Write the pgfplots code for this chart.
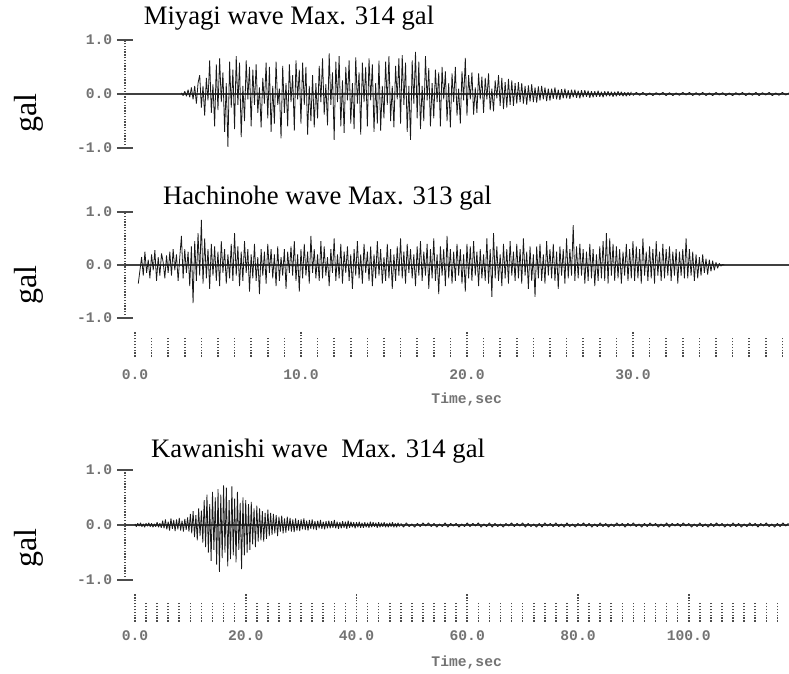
\documentclass[border=0pt]{standalone}
\usepackage{pgfplots}
\pgfplotsset{compat=1.18}
\usepackage{fontspec}
\setmainfont{Liberation Serif}
\newfontfamily\monofont{Liberation Mono}

\pgfplotsset{
  wavepanel/.style={
    scale only axis, width=498pt,
    ymin=-1, ymax=1,
    axis x line=none, axis y line=left,
    y axis line style={-, black!70, densely dotted, line width=1.1pt},
    ytick={-1,0,1}, yticklabels={-1.0,0.0,1.0},
    tick align=center, major tick length=12pt,
    ytick style={black!70, line width=1.1pt, solid},
    yticklabel style={font=\monofont\bfseries\fontsize{11}{12}\selectfont, text=black!55},
    /pgf/number format/assume math mode=true,
  },
  tickrow/.style={
    scale only axis, width=498pt, height=10pt,
    ymin=0, ymax=1, hide y axis,
    axis x line*=bottom, x axis line style={draw=none},
    tick align=inside,
    xtick style={black!70, line width=1.2pt, densely dotted},
    xticklabel style={font=\monofont\bfseries\fontsize{11}{12}\selectfont, text=black!55},
    /pgf/number format/assume math mode=true,
  },
  trace/.style={black!90, line width=0.6pt, no markers, line join=bevel},
  zeroline/.style={black!75, line width=1pt, no markers},
}

\begin{document}
\begin{tikzpicture}
\path[use as bounding box] (0,0) rectangle (591.75pt,505.5pt);

% ---------------- Miyagi ----------------
\begin{axis}[wavepanel, height=81pt, xmin=-0.6, xmax=39.4,
  at={(93.75pt,394.5pt)}, anchor=south west]
\addplot[zeroline] coordinates {(-0.6,0) (39.4,0)};
\addplot[trace] table[row sep=\\, y index=0, x expr=\coordindex*0.1+2.8] {a\\
0.02\\ -0.03\\ 0.05\\ -0.04\\ 0.08\\ -0.06\\ 0.12\\ -0.1\\ 0.15\\ -0.18\\ 0.2\\
0.35\\ -0.25\\ 0.15\\ -0.4\\ 0.3\\ -0.12\\ 0.62\\ -0.35\\ 0.18\\ -0.6\\ 0.55\\
-0.3\\ 0.66\\ -0.15\\ 0.4\\ -0.7\\ 0.2\\ -0.98\\ 0.6\\ -0.25\\ 0.45\\
-0.65\\ 0.7\\ -0.2\\ 0.58\\ -0.8\\ 0.15\\ -0.5\\ 0.62\\ -0.1\\ 0.5\\
-0.6\\ 0.45\\ -0.2\\ 0.55\\ -0.35\\ 0.12\\ -0.62\\ 0.3\\ -0.18\\ 0.58\\
-0.45\\ 0.5\\ -0.7\\ 0.15\\ -0.55\\ 0.6\\ -0.2\\ 0.1\\ -0.82\\ 0.52\\
-0.35\\ 0.2\\ -0.6\\ 0.55\\ -0.15\\ 0.35\\ -0.68\\ 0.62\\ -0.1\\ 0.45\\
-0.55\\ 0.58\\ -0.2\\ 0.5\\ -0.75\\ 0.15\\ -0.5\\ 0.35\\ -0.62\\ 0.2\\
-0.45\\ 0.52\\ -0.15\\ 0.66\\ -0.38\\ 0.18\\ -0.58\\ 0.75\\ -0.2\\ 0.4\\
-0.85\\ 0.6\\ -0.15\\ 0.7\\ -0.6\\ 0.25\\ -0.72\\ 0.5\\ -0.12\\ 0.62\\
-0.55\\ 0.2\\ -0.65\\ 0.68\\ -0.18\\ 0.4\\ -0.75\\ 0.58\\ -0.15\\ 0.5\\
-0.6\\ 0.66\\ -0.12\\ 0.55\\ -0.7\\ 0.2\\ -0.55\\ 0.62\\ -0.68\\ 0.15\\
-0.45\\ 0.6\\ -0.2\\ 0.7\\ -0.5\\ 0.15\\ -0.62\\ 0.52\\ -0.1\\ 0.66\\
-0.55\\ 0.72\\ -0.2\\ 0.58\\ -0.7\\ 0.15\\ -0.85\\ 0.62\\ -0.18\\ 0.78\\
-0.45\\ 0.6\\ -0.65\\ 0.15\\ -0.5\\ 0.7\\ -0.12\\ 0.48\\ -0.6\\ 0.2\\
-0.45\\ 0.45\\ -0.15\\ 0.4\\ -0.6\\ 0.5\\ -0.1\\ 0.42\\ -0.5\\ 0.2\\
-0.62\\ 0.38\\ -0.15\\ 0.5\\ -0.4\\ 0.1\\ -0.55\\ 0.42\\ -0.12\\ 0.67\\
-0.4\\ 0.35\\ -0.1\\ 0.4\\ -0.38\\ 0.12\\ -0.35\\ 0.38\\ -0.1\\ 0.32\\
-0.35\\ 0.3\\ -0.1\\ 0.38\\ -0.3\\ 0.1\\ -0.32\\ 0.25\\ -0.08\\ 0.35\\
-0.22\\ 0.3\\ -0.28\\ 0.22\\ -0.25\\ 0.28\\ -0.2\\ 0.25\\ -0.22\\ 0.2\\
-0.18\\ 0.22\\ -0.15\\ 0.2\\ -0.18\\ 0.15\\ -0.2\\ 0.16\\ -0.14\\ 0.18\\
-0.15\\ 0.12\\ -0.16\\ 0.14\\ -0.12\\ 0.15\\ -0.1\\ 0.12\\ -0.13\\ 0.1\\
-0.12\\ 0.1\\ -0.09\\ 0.12\\ -0.1\\ 0.08\\ -0.11\\ 0.09\\ -0.08\\ 0.1\\
-0.08\\ 0.07\\ -0.09\\ 0.08\\ -0.06\\ 0.08\\ -0.07\\ 0.06\\ -0.08\\ 0.07\\
-0.06\\ 0.07\\ -0.05\\ 0.06\\ -0.07\\ 0.05\\ -0.06\\ 0.05\\ -0.05\\ 0.06\\
-0.05\\ 0.04\\ -0.06\\ 0.05\\ -0.04\\ 0.05\\ -0.04\\ 0.04\\ -0.05\\ 0.04\\
-0.04\\ 0.05\\ -0.03\\ 0.04\\ -0.04\\ 0.03\\ -0.04\\ 0.03\\ -0.03\\ 0.04\\
};
\addplot[trace] table[row sep=\\, y index=0, x expr=\coordindex*0.2+30] {a\\
-0.03\\ 0.03\\ -0.025\\ 0.03\\ -0.03\\ 0.02\\ -0.03\\ 0.025\\ -0.02\\ 0.03\\
-0.03\\ 0.025\\ -0.03\\ 0.02\\ -0.025\\ 0.03\\ -0.02\\ 0.03\\ -0.03\\ 0.025\\
-0.025\\ 0.03\\ -0.03\\ 0.02\\ -0.03\\ 0.03\\ -0.02\\ 0.025\\ -0.03\\ 0.02\\
-0.03\\ 0.025\\ -0.02\\ 0.03\\ -0.03\\ 0.02\\ -0.025\\ 0.03\\ -0.03\\ 0.025\\
-0.02\\ 0.03\\ -0.03\\ 0.02\\ -0.025\\ 0.03\\ -0.02\\ 0.02\\
};
\end{axis}

% ---------------- Hachinohe ----------------
\begin{axis}[wavepanel, height=79.5pt, xmin=-0.6, xmax=39.4,
  at={(93.75pt,267pt)}, anchor=south west]
\addplot[zeroline] coordinates {(-0.6,0) (39.4,0)};
\addplot[trace] table[row sep=\\, y index=0, x expr=\coordindex*0.1+0.2] {a\\
-0.35\\ -0.1\\ 0.15\\ -0.2\\ 0.25\\ -0.15\\ 0.1\\ -0.25\\ 0.2\\ -0.1\\
0.28\\ -0.3\\ 0.15\\ -0.2\\ 0.22\\ 0.05\\ -0.25\\ 0.18\\ -0.15\\ 0.25\\
-0.2\\ 0.3\\ -0.1\\ 0.2\\ -0.3\\ 0.15\\ 0.55\\ -0.25\\ 0.3\\ -0.15\\
0.25\\ -0.4\\ 0.35\\ -0.72\\ 0.45\\ -0.3\\ 0.6\\ -0.2\\ 0.85\\ -0.35\\
0.5\\ -0.25\\ 0.3\\ -0.45\\ 0.4\\ -0.2\\ 0.35\\ -0.3\\ 0.25\\ -0.4\\
0.45\\ -0.15\\ 0.3\\ -0.35\\ 0.2\\ -0.25\\ 0.4\\ -0.3\\ 0.6\\ -0.2\\
0.35\\ -0.4\\ 0.25\\ -0.3\\ 0.45\\ -0.15\\ 0.3\\ -0.5\\ 0.2\\ -0.25\\
0.4\\ -0.3\\ 0.15\\ -0.55\\ 0.3\\ -0.2\\ 0.25\\ -0.35\\ 0.4\\ -0.15\\
0.3\\ -0.25\\ 0.2\\ -0.4\\ 0.35\\ -0.3\\ 0.15\\ -0.2\\ 0.3\\ -0.45\\
0.25\\ -0.15\\ 0.35\\ -0.2\\ 0.45\\ -0.3\\ 0.2\\ -0.5\\ 0.3\\ -0.25\\
0.4\\ -0.2\\ 0.25\\ -0.35\\ 0.55\\ -0.15\\ 0.3\\ -0.25\\ 0.2\\ -0.3\\
0.45\\ -0.25\\ 0.35\\ -0.2\\ 0.15\\ -0.4\\ 0.3\\ -0.15\\ 0.5\\ -0.3\\
0.2\\ -0.25\\ 0.4\\ -0.35\\ 0.25\\ -0.15\\ 0.35\\ -0.3\\ 0.2\\ -0.45\\
0.3\\ -0.2\\ 0.45\\ -0.25\\ 0.2\\ -0.35\\ 0.4\\ -0.15\\ 0.25\\ -0.3\\
0.35\\ -0.4\\ 0.2\\ -0.25\\ 0.45\\ -0.2\\ 0.3\\ -0.35\\ 0.15\\ -0.3\\
0.4\\ -0.25\\ 0.3\\ -0.45\\ 0.2\\ -0.3\\ 0.35\\ -0.2\\ 0.5\\ -0.25\\
0.25\\ -0.35\\ 0.4\\ -0.15\\ 0.3\\ -0.25\\ 0.2\\ -0.4\\ 0.35\\ -0.2\\
0.45\\ -0.3\\ 0.25\\ -0.2\\ 0.4\\ -0.45\\ 0.3\\ -0.25\\ 0.5\\ -0.3\\
0.2\\ -0.55\\ 0.35\\ -0.2\\ 0.3\\ -0.4\\ 0.55\\ -0.25\\ 0.3\\ -0.35\\
0.25\\ -0.3\\ 0.4\\ -0.2\\ 0.3\\ -0.35\\ 0.2\\ -0.5\\ 0.4\\ -0.25\\
0.35\\ -0.3\\ 0.45\\ -0.2\\ 0.25\\ -0.4\\ 0.3\\ -0.25\\ 0.2\\ -0.3\\
0.5\\ -0.35\\ 0.3\\ -0.6\\ 0.6\\ -0.25\\ 0.35\\ -0.3\\ 0.2\\ -0.4\\
0.4\\ -0.25\\ 0.3\\ -0.35\\ 0.45\\ -0.2\\ 0.25\\ -0.3\\ 0.4\\ -0.25\\
0.3\\ -0.35\\ 0.5\\ -0.2\\ 0.25\\ -0.45\\ 0.35\\ -0.3\\ 0.2\\ -0.6\\
0.35\\ -0.25\\ 0.4\\ -0.3\\ 0.2\\ -0.35\\ 0.45\\ -0.2\\ 0.3\\ -0.25\\
0.4\\ -0.3\\ 0.25\\ -0.45\\ 0.35\\ -0.2\\ 0.3\\ -0.35\\ 0.5\\ -0.25\\
0.3\\ -0.2\\ 0.75\\ -0.3\\ 0.35\\ -0.25\\ 0.4\\ -0.2\\ 0.3\\ -0.35\\
0.25\\ -0.3\\ 0.4\\ -0.25\\ 0.3\\ -0.4\\ 0.2\\ -0.3\\ 0.35\\ -0.25\\
0.45\\ -0.3\\ 0.6\\ -0.35\\ 0.5\\ -0.2\\ 0.4\\ -0.3\\ 0.35\\ -0.25\\
0.3\\ -0.35\\ 0.25\\ -0.2\\ 0.4\\ -0.3\\ 0.3\\ -0.25\\ 0.45\\ -0.3\\
0.35\\ -0.25\\ 0.3\\ -0.35\\ 0.5\\ -0.2\\ 0.25\\ -0.3\\ 0.35\\ -0.25\\
0.3\\ -0.35\\ 0.45\\ -0.2\\ 0.25\\ -0.3\\ 0.4\\ -0.25\\ 0.3\\ -0.2\\
0.35\\ -0.3\\ 0.25\\ -0.2\\ 0.3\\ -0.35\\ 0.25\\ -0.2\\ 0.3\\ -0.25\\
0.5\\ -0.25\\ 0.3\\ -0.2\\ 0.25\\ -0.3\\ 0.2\\ -0.25\\ 0.15\\ -0.2\\
0.2\\ -0.15\\ 0.12\\ -0.18\\ 0.1\\ -0.12\\ 0.08\\ -0.1\\ 0.05\\ -0.06\\
0.03\\ -0.02\\ 0.01\\ 0\\
};
\end{axis}
\begin{axis}[tickrow, xmin=-0.6, xmax=39.4,
  at={(93.75pt,237.75pt)}, anchor=south west,
  xtick={0,10,20,30}, xticklabels={0.0,10.0,20.0,30.0},
  minor xtick={1,2,...,39},
  major tick length=18.75pt, minor tick length=14.25pt,
  xticklabel style={yshift=-6pt}]
\end{axis}

% ---------------- Kawanishi ----------------
\begin{axis}[wavepanel, height=82.5pt, xmin=-1.8, xmax=118.1,
  at={(93.75pt,70.5pt)}, anchor=south west]
\addplot[zeroline] coordinates {(-1.8,0) (118.1,0)};
\addplot[trace] table[row sep=\\, y index=0, x expr=\coordindex*0.25] {a\\
0.02\\ -0.03\\ 0.03\\ -0.02\\ 0.04\\ -0.03\\ 0.02\\ -0.04\\ 0.03\\ -0.02\\
0.04\\ -0.03\\ 0.03\\ -0.04\\ 0.02\\ -0.03\\ 0.05\\ -0.04\\ 0.03\\ -0.05\\
0.08\\ -0.06\\ 0.1\\ -0.08\\ 0.06\\ -0.1\\ 0.12\\ -0.07\\ 0.09\\ -0.11\\
0.1\\ -0.08\\ 0.13\\ -0.1\\ 0.08\\ -0.12\\ 0.11\\ -0.09\\ 0.14\\ -0.12\\
0.2\\ -0.15\\ 0.25\\ -0.22\\ 0.18\\ -0.28\\ 0.3\\ -0.2\\ 0.26\\ -0.32\\
0.45\\ -0.4\\ 0.55\\ -0.5\\ 0.38\\ -0.65\\ 0.6\\ -0.45\\ 0.5\\ -0.72\\
0.65\\ -0.85\\ 0.55\\ -0.6\\ 0.72\\ -0.5\\ 0.68\\ -0.75\\ 0.45\\ -0.62\\
0.7\\ -0.55\\ 0.48\\ -0.68\\ 0.6\\ -0.45\\ 0.4\\ -0.8\\ 0.5\\ -0.55\\
0.45\\ -0.5\\ 0.38\\ -0.45\\ 0.42\\ -0.35\\ 0.3\\ -0.4\\ 0.35\\ -0.3\\
0.3\\ -0.28\\ 0.25\\ -0.3\\ 0.22\\ -0.25\\ 0.28\\ -0.2\\ 0.22\\ -0.18\\
0.2\\ -0.15\\ 0.18\\ -0.2\\ 0.15\\ -0.12\\ 0.17\\ -0.15\\ 0.12\\ -0.14\\
0.15\\ -0.1\\ 0.13\\ -0.12\\ 0.1\\ -0.13\\ 0.12\\ -0.1\\ 0.09\\ -0.11\\
0.1\\ -0.08\\ 0.12\\ -0.09\\ 0.08\\ -0.1\\ 0.09\\ -0.07\\ 0.1\\ -0.08\\
0.07\\ -0.09\\ 0.08\\ -0.06\\ 0.09\\ -0.07\\ 0.06\\ -0.08\\ 0.07\\ -0.06\\
0.08\\ -0.06\\ 0.07\\ -0.05\\ 0.09\\ -0.06\\ 0.06\\ -0.07\\ 0.05\\ -0.06\\
0.07\\ -0.05\\ 0.06\\ -0.07\\ 0.08\\ -0.05\\ 0.06\\ -0.04\\ 0.05\\ -0.06\\
0.05\\ -0.04\\ 0.06\\ -0.05\\ 0.04\\ -0.05\\ 0.05\\ -0.04\\ 0.04\\ -0.05\\
0.06\\ -0.04\\ 0.05\\ -0.03\\ 0.04\\ -0.05\\ 0.05\\ -0.04\\ 0.04\\ -0.03\\
0.05\\ -0.04\\ 0.03\\ -0.04\\ 0.04\\ -0.03\\ 0.05\\ -0.04\\ 0.03\\ -0.04\\
0.04\\ -0.03\\
};
\addplot[trace] table[row sep=\\, y index=0, x expr=\coordindex*0.5+48] {a\\
0.03\\ -0.04\\ 0.04\\ -0.03\\ 0.02\\ -0.04\\ 0.03\\ -0.03\\ 0.04\\ -0.02\\
0.04\\ -0.03\\ 0.03\\ -0.04\\ 0.02\\ -0.03\\ 0.04\\ -0.04\\ 0.03\\ -0.02\\
0.03\\ -0.04\\ 0.02\\ -0.03\\ 0.04\\ -0.03\\ 0.03\\ -0.02\\ 0.04\\ -0.04\\
0.02\\ -0.03\\ 0.04\\ -0.04\\ 0.03\\ -0.03\\ 0.02\\ -0.04\\ 0.03\\ -0.02\\
0.04\\ -0.03\\ 0.03\\ -0.02\\ 0.04\\ -0.04\\ 0.03\\ -0.03\\ 0.02\\ -0.04\\
0.03\\ -0.04\\ 0.04\\ -0.02\\ 0.03\\ -0.03\\ 0.04\\ -0.03\\ 0.02\\ -0.04\\
0.04\\ -0.03\\ 0.02\\ -0.04\\ 0.03\\ -0.02\\ 0.04\\ -0.03\\ 0.03\\ -0.04\\
0.02\\ -0.03\\ 0.04\\ -0.03\\ 0.03\\ -0.04\\ 0.02\\ -0.03\\ 0.04\\ -0.02\\
0.03\\ -0.04\\ 0.03\\ -0.02\\ 0.04\\ -0.03\\ 0.02\\ -0.04\\ 0.03\\ -0.03\\
0.04\\ -0.02\\ 0.03\\ -0.04\\ 0.02\\ -0.03\\ 0.04\\ -0.04\\ 0.03\\ -0.02\\
0.03\\ -0.03\\ 0.04\\ -0.02\\ 0.03\\ -0.04\\ 0.02\\ -0.03\\ 0.04\\ -0.03\\
0.02\\ -0.04\\ 0.03\\ -0.03\\ 0.04\\ -0.02\\ 0.03\\ -0.04\\ 0.02\\ -0.03\\
0.04\\ -0.03\\ 0.03\\ -0.04\\ 0.02\\ -0.03\\ 0.04\\ -0.02\\ 0.03\\ -0.04\\
0.03\\ -0.02\\ 0.04\\ -0.03\\ 0.02\\ -0.04\\ 0.03\\ -0.03\\ 0.04\\ -0.02\\
0.03\\
};
\end{axis}
\begin{axis}[tickrow, xmin=-1.8, xmax=118.1,
  at={(93.75pt,39pt)}, anchor=south west,
  xtick={0,20,40,60,80,100}, xticklabels={0.0,20.0,40.0,60.0,80.0,100.0},
  minor xtick={2,4,...,116},
  major tick length=21.75pt, minor tick length=15pt,
  xticklabel style={yshift=-3pt}]
\end{axis}

% ---------------- titles and labels ----------------
\begin{scope}[font=\fontsize{20}{24}\selectfont]
\node[anchor=base] at (216.75pt,486.75pt) {Miyagi wave Max. 314 gal};
\node[anchor=base] at (245.6pt,351.75pt) {Hachinohe wave Max. 313 gal};
\node[anchor=base] at (238.5pt,162pt) {Kawanishi wave\ \ Max. 314 gal};
\end{scope}
\begin{scope}[font=\fontsize{24}{28}\selectfont]
\node[rotate=90] at (21.75pt,420.75pt) {gal};
\node[rotate=90] at (21.75pt,291.75pt) {gal};
\node[rotate=90] at (21.75pt,94.5pt) {gal};
\end{scope}
\begin{scope}[font=\monofont\bfseries\fontsize{11}{12}\selectfont, text=black!55]
\node at (350pt,206.25pt) {Time,sec};
\node at (350pt,9pt) {Time,sec};
\end{scope}
\end{tikzpicture}
\end{document}
